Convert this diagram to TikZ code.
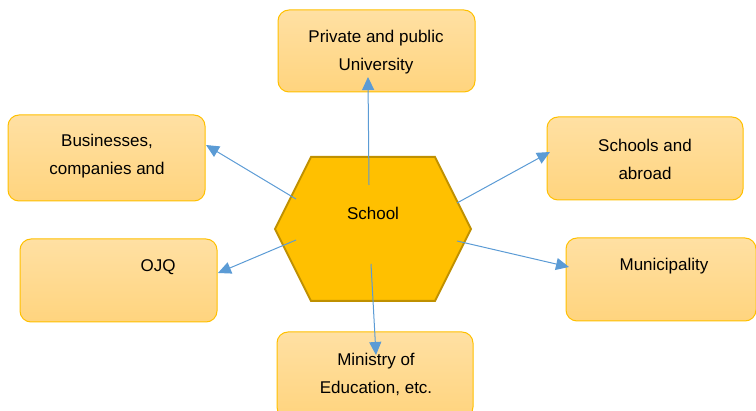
\documentclass[tikz,border=0pt]{standalone}
\usepackage{fontspec}
\setmainfont{Liberation Sans}
\usetikzlibrary{arrows.meta}
\definecolor{boxedge}{HTML}{FFC000}
\definecolor{boxtop}{HTML}{FFE0A3}
\definecolor{boxbot}{HTML}{FFD47E}
\definecolor{hexfill}{HTML}{FFC000}
\definecolor{hexedge}{HTML}{BF9000}
\definecolor{arrowblue}{HTML}{5B9BD5}
\tikzset{
  box/.style={draw=boxedge, line width=1pt, rounded corners=11pt, top color=boxtop, bottom color=boxbot, inner sep=0pt},
  lbl/.style={font=\fontsize{17}{28}\selectfont, align=center, inner sep=0pt, text=black},
  conn/.style={draw=arrowblue, line width=1pt, -{Triangle[length=13pt,width=12pt]}}
}
\begin{document}
\begin{tikzpicture}[x=1pt,y=-1pt]
\useasboundingbox (0,0) rectangle (756,411);
% boxes
\node[box, minimum width=197pt, minimum height=82pt] (univ) at (376.5,51) {};
\node[box, minimum width=197pt, minimum height=86pt] (bus) at (106.5,158) {};
\node[box, minimum width=196pt, minimum height=83pt] (abroad) at (645,158.5) {};
\node[box, minimum width=190pt, minimum height=83pt] (muni) at (661,279.5) {};
\node[box, minimum width=196pt, minimum height=86pt] (mini) at (375,375) {};
\node[box, minimum width=197pt, minimum height=83pt] (ojq) at (118.5,280.5) {};
% texts
\node[lbl] (tuniv) at (376,52) {Private and public\\University};
\node[lbl] (tbus) at (107,156) {Businesses,\\companies and};
\node[lbl] (tabroad) at (645,159) {Schools and\\abroad};
\node[lbl] (tmuni) at (664,266) {Municipality};
\node[lbl] (tmini) at (376,374) {Ministry of\\Education, etc.};
\node[lbl] (tojq) at (158,267) {OJQ};
% hexagon
\coordinate (h1) at (311,157);
\coordinate (h2) at (435,157);
\coordinate (h3) at (471,229);
\coordinate (h4) at (435,301);
\coordinate (h5) at (311,301);
\coordinate (h6) at (275,229);
\draw[fill=hexfill, draw=hexedge, line width=2pt, line join=miter] (h1) -- (h2) -- (h3) -- (h4) -- (h5) -- (h6) -- cycle;
\node[lbl] (school) at (373,213) {School};
% connector start points
\coordinate (sU) at (369,185);
\coordinate (sB) at (296,199);
\coordinate (sA) at (457,203);
\coordinate (sM) at (457,241);
\coordinate (sE) at (371,264);
\coordinate (sO) at (296,240);
% connector end points
\coordinate (eU) at (368,77);
\coordinate (eB) at (206,145);
\coordinate (eA) at (550,152);
\coordinate (eM) at (569,267);
\coordinate (eE) at (376,355);
\coordinate (eO) at (218,273);
\draw[conn] (sU) -- (eU);
\draw[conn] (sB) -- (eB);
\draw[conn] (sA) -- (eA);
\draw[conn] (sM) -- (eM);
\draw[conn] (sE) -- (eE);
\draw[conn] (sO) -- (eO);
\end{tikzpicture}
\end{document}
